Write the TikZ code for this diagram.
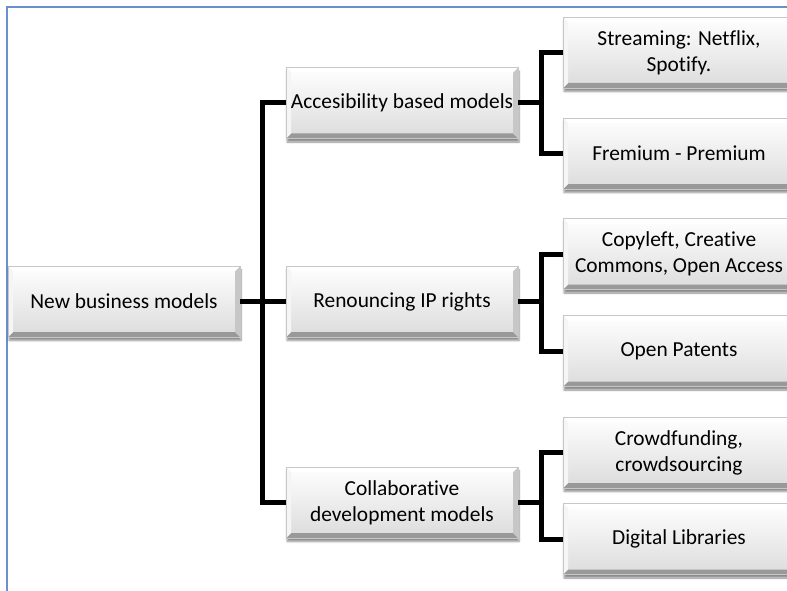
\documentclass[tikz,border=0pt]{standalone}
\usepackage{fontspec}
\setmainfont{Carlito}[Ligatures=CommonOff]
\usetikzlibrary{shadows.blur}
\definecolor{framecol}{RGB}{104,145,205}
\tikzset{
  bbox/.style={minimum width=232pt, minimum height=71pt, inner sep=2pt, align=center,
    font=\fontsize{21.4}{26}\selectfont, text=black,
    top color=white, bottom color=black!14, draw=black!22, line width=0.6pt,
    blur shadow={shadow xshift=1pt, shadow yshift=-3.5pt, shadow blur steps=6, shadow opacity=45},
    path picture={
      \fill[black!40] (path picture bounding box.south west) -- ++(5pt,5pt)
        -- ([xshift=-5pt,yshift=5pt]path picture bounding box.south east)
        -- (path picture bounding box.south east) -- cycle;
      \fill[black!22] (path picture bounding box.south east) -- ++(-5pt,5pt)
        -- ([xshift=-5pt,yshift=-5pt]path picture bounding box.north east)
        -- (path picture bounding box.north east) -- cycle;
      \fill[white] (path picture bounding box.north west) -- ++(5pt,-5pt)
        -- ([xshift=-5pt,yshift=-5pt]path picture bounding box.north east)
        -- (path picture bounding box.north east) -- cycle;
      \fill[black!4] (path picture bounding box.north west) -- ++(5pt,-5pt)
        -- ([xshift=5pt,yshift=5pt]path picture bounding box.south west)
        -- (path picture bounding box.south west) -- cycle;
    }},
  conn/.style={line width=5pt, black, line join=miter}
}
\begin{document}
\begin{tikzpicture}[x=1pt,y=-1pt]
\useasboundingbox (0,0) rectangle (787,591);
\begin{scope}
\clip (0,0) rectangle (787,591);
\draw[framecol, line width=1.2pt] (7,600) -- (7,7) -- (800,7);

\node[bbox] (root) at (124,301.5) {New business models};
\node[bbox] (acc) at (402,103) {Accesibility based models};
\node[bbox] (ren) at (402,301.5) {Renouncing IP rights};
\node[bbox] (col) at (402,502.5) {Collaborative\\development models};

\node[bbox] (s1) at (679,52.5) {Streaming: Netflix,\\Spotify.};
\node[bbox] (s2) at (679,153.5) {Fremium - Premium};
\node[bbox] (s3) at (679,254) {Copyleft, Creative\\Commons, Open Access};
\node[bbox] (s4) at (679,351) {Open Patents};
\node[bbox] (s5) at (679,452.5) {Crowdfunding,\\crowdsourcing};
\node[bbox] (s6) at (679,539) {Digital Libraries};

\draw[conn] (root.east) -- (ren.west);
\draw[conn] (acc.west) -- ++(-23,0) |- (col.west);
\draw[conn] (acc.east) -- ++(26,0);
\draw[conn] (s1.west) -- ++(-21,0) |- (s2.west);
\draw[conn] (ren.east) -- ++(26,0);
\draw[conn] (s3.west) -- ++(-21,0) |- (s4.west);
\draw[conn] (col.east) -- ++(26,0);
\draw[conn] (s5.west) -- ++(-21,0) |- (s6.west);
\end{scope}
\end{tikzpicture}
\end{document}
